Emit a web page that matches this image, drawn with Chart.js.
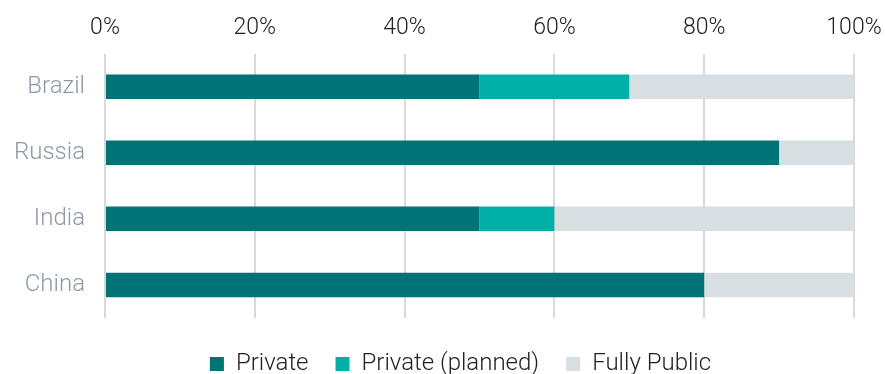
<!DOCTYPE html>
<html>
<head>
<meta charset="utf-8">
<script src="https://cdn.jsdelivr.net/npm/chart.js@4"></script>
<style>
  html, body { margin: 0; padding: 0; background: #fff; }
  #wrap { width: 885px; height: 374px; }
</style>
</head>
<body>
<div id="wrap"><canvas id="chart"></canvas></div>
<script>
const countries = ['Brazil', 'Russia', 'India', 'China'];
const privateShare = [50, 90, 50, 80];
const plannedShare = [20, 0, 10, 0];
const publicShare = [30, 10, 40, 20];
const tickValues = [0, 20, 40, 60, 80, 100];

const font = 'Roboto';

// nudge the legend a little to the right, like the original
const legendShift = {
    id: 'legendShift',
    afterLayout(chart) {
        chart.legend.left += 18;
        chart.legend.right += 18;
    },
};

new Chart(document.getElementById('chart'), {
    type: 'bar',
    data: {
        labels: countries,
        datasets: [
            { label: 'Private', data: privateShare, backgroundColor: '#007377' },
            { label: 'Private (planned)', data: plannedShare, backgroundColor: '#00b0a8' },
            { label: 'Fully Public', data: publicShare, backgroundColor: '#d8dfe2' },
        ],
    },
    options: {
        indexAxis: 'y',
        responsive: true,
        maintainAspectRatio: false,
        animation: false,
        categoryPercentage: 0.37,
        barPercentage: 1,
        layout: { padding: { left: 0, right: 0, top: 2, bottom: -12 } },
        scales: {
            x: {
                position: 'top',
                stacked: true,
                min: 0,
                max: 100,
                afterBuildTicks: (axis) => {
                    axis.ticks = tickValues.map((v) => ({ value: v }));
                },
                afterFit: (axis) => {
                    axis.paddingRight = 31;
                },
                ticks: {
                    callback: (v) => v + '%',
                    color: '#222',
                    font: { family: font, size: 23, weight: 300 },
                    padding: 12,
                },
                grid: { color: '#d9d9d9', lineWidth: 2, drawTicks: false },
                border: { display: false },
            },
            y: {
                stacked: true,
                afterFit: (axis) => {
                    axis.width = 105;
                },
                ticks: {
                    color: '#8c9aa6',
                    font: { family: font, size: 24, weight: 300 },
                    padding: 12,
                },
                grid: { display: false },
                border: { display: false },
            },
        },
        plugins: {
            legend: {
                position: 'bottom',
                // empty title only adds a little space above the legend row
                title: { display: true, text: '', padding: 0, font: { size: 7, lineHeight: 1 } },
                labels: {
                    boxWidth: 14,
                    boxHeight: 14,
                    color: '#222',
                    font: { family: font, size: 24, weight: 300 },
                    padding: 27,
                },
            },
            tooltip: { enabled: false },
        },
    },
    plugins: [legendShift],
});
</script>
</body>
</html>
